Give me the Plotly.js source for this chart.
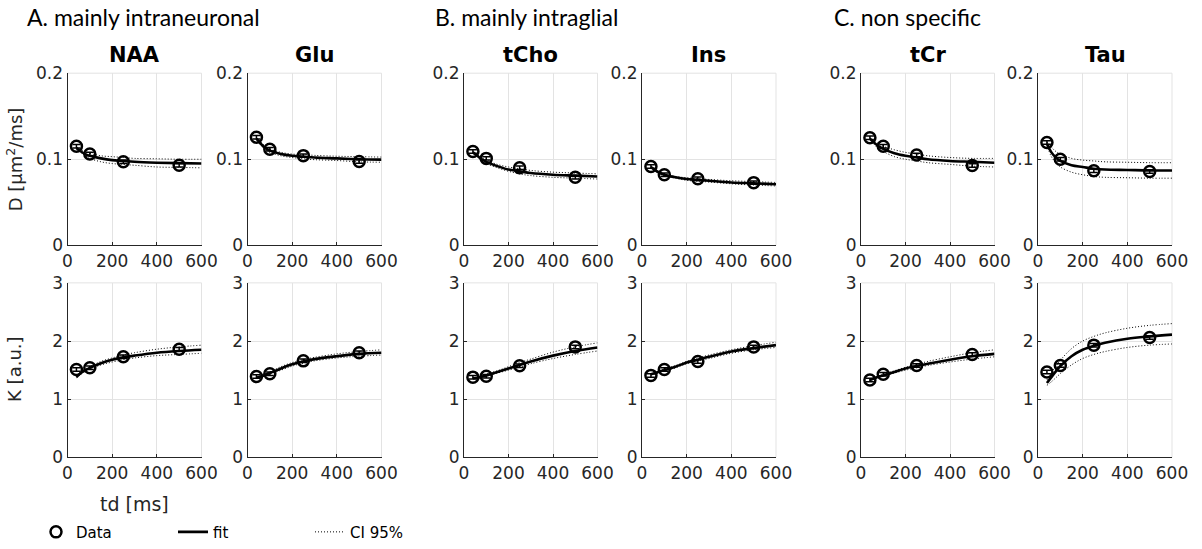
<!DOCTYPE html>
<html><head><meta charset="utf-8">
<script src="https://cdn.plot.ly/plotly-3.0.1.min.js"></script>
<style>html,body{margin:0;padding:0;background:#fff}#chart{width:1202px;height:549px}</style>
</head><body><div id="chart"></div>
<script>
// ---------- data ----------
const td = [40, 100, 250, 500];
const tFit = [40, 60, 80, 100, 150, 200, 250, 300, 400, 500, 600];
const metabolites = ['NAA', 'Glu', 'tCho', 'Ins', 'tCr', 'Tau'];
const groupTitles = ['A. mainly intraneuronal', 'B. mainly intraglial', 'C. non specific'];
const xTicks = [0, 200, 400, 600];
const dTicks = [0, 0.1, 0.2];
const kTicks = [0, 1, 2, 3];

// D [µm²/ms]
const D_NAA = [0.115, 0.106, 0.097, 0.093];
const D_NAA_fit = [0.113, 0.109, 0.106, 0.104, 0.101, 0.099, 0.098, 0.097, 0.096, 0.0955, 0.095];
const D_NAA_hi = [0.114, 0.111, 0.109, 0.107, 0.104, 0.103, 0.102, 0.101, 0.1005, 0.100, 0.100];
const D_NAA_lo = [0.112, 0.108, 0.104, 0.101, 0.097, 0.095, 0.094, 0.093, 0.091, 0.0905, 0.090];

const D_Glu = [0.1256, 0.1115, 0.1042, 0.0973];
const D_Glu_fit = [0.124, 0.118, 0.113, 0.110, 0.106, 0.104, 0.103, 0.102, 0.101, 0.100, 0.0995];
const D_Glu_hi = [0.125, 0.120, 0.115, 0.112, 0.108, 0.106, 0.1055, 0.1045, 0.1035, 0.103, 0.1025];
const D_Glu_lo = [0.123, 0.116, 0.111, 0.108, 0.104, 0.102, 0.1005, 0.0995, 0.0985, 0.097, 0.0965];

const D_tCho = [0.109, 0.101, 0.090, 0.079];
const D_tCho_fit = [0.108, 0.104, 0.100, 0.097, 0.092, 0.088, 0.086, 0.084, 0.082, 0.081, 0.080];
const D_tCho_hi = [0.109, 0.105, 0.102, 0.099, 0.094, 0.091, 0.089, 0.087, 0.085, 0.084, 0.083];
const D_tCho_lo = [0.107, 0.103, 0.098, 0.095, 0.090, 0.086, 0.083, 0.081, 0.079, 0.078, 0.077];

const D_Ins = [0.0916, 0.082, 0.0774, 0.0728];
const D_Ins_fit = [0.091, 0.087, 0.084, 0.082, 0.079, 0.077, 0.076, 0.075, 0.073, 0.072, 0.071];
const D_Ins_hi = [0.092, 0.088, 0.085, 0.083, 0.080, 0.0785, 0.0775, 0.0765, 0.075, 0.074, 0.073];
const D_Ins_lo = [0.090, 0.086, 0.083, 0.081, 0.078, 0.0755, 0.0745, 0.0735, 0.0715, 0.070, 0.069];

const D_tCr = [0.125, 0.115, 0.105, 0.0927];
const D_tCr_fit = [0.124, 0.119, 0.115, 0.112, 0.107, 0.104, 0.102, 0.100, 0.098, 0.097, 0.096];
const D_tCr_hi = [0.125, 0.121, 0.118, 0.115, 0.111, 0.108, 0.106, 0.104, 0.102, 0.101, 0.101];
const D_tCr_lo = [0.123, 0.117, 0.112, 0.109, 0.103, 0.100, 0.098, 0.096, 0.094, 0.092, 0.091];

const D_Tau = [0.1195, 0.100, 0.0866, 0.0858];
const D_Tau_fit = [0.118, 0.108, 0.102, 0.098, 0.093, 0.091, 0.089, 0.088, 0.0875, 0.087, 0.087];
const D_Tau_hi = [0.120, 0.114, 0.109, 0.106, 0.101, 0.099, 0.098, 0.097, 0.0965, 0.096, 0.096];
const D_Tau_lo = [0.116, 0.103, 0.096, 0.091, 0.085, 0.082, 0.080, 0.079, 0.0785, 0.078, 0.078];

const D_err = [0.002, 0.002, 0.002, 0.002];

// K [a.u.]
const K_NAA = [1.51, 1.54, 1.73, 1.86];
const K_NAA_fit = [1.38, 1.45, 1.50, 1.54, 1.62, 1.68, 1.72, 1.75, 1.80, 1.83, 1.85];
const K_NAA_hi = [1.40, 1.47, 1.52, 1.56, 1.65, 1.71, 1.76, 1.80, 1.86, 1.90, 1.93];
const K_NAA_lo = [1.37, 1.43, 1.48, 1.52, 1.59, 1.64, 1.68, 1.71, 1.75, 1.77, 1.79];

const K_Glu = [1.39, 1.44, 1.66, 1.80];
const K_Glu_fit = [1.37, 1.39, 1.42, 1.45, 1.53, 1.60, 1.65, 1.69, 1.74, 1.78, 1.80];
const K_Glu_hi = [1.38, 1.41, 1.44, 1.47, 1.56, 1.63, 1.68, 1.72, 1.78, 1.82, 1.85];
const K_Glu_lo = [1.36, 1.38, 1.40, 1.43, 1.50, 1.57, 1.62, 1.66, 1.71, 1.74, 1.76];

const K_tCho = [1.38, 1.395, 1.576, 1.90];
const K_tCho_fit = [1.36, 1.37, 1.39, 1.41, 1.47, 1.53, 1.59, 1.65, 1.75, 1.83, 1.89];
const K_tCho_hi = [1.37, 1.38, 1.40, 1.43, 1.49, 1.56, 1.63, 1.69, 1.81, 1.90, 1.97];
const K_tCho_lo = [1.35, 1.36, 1.38, 1.39, 1.45, 1.50, 1.55, 1.61, 1.70, 1.77, 1.83];

const K_Ins = [1.41, 1.51, 1.65, 1.90];
const K_Ins_fit = [1.43, 1.45, 1.48, 1.50, 1.56, 1.63, 1.68, 1.73, 1.82, 1.88, 1.93];
const K_Ins_hi = [1.44, 1.46, 1.49, 1.52, 1.58, 1.65, 1.71, 1.76, 1.85, 1.92, 1.98];
const K_Ins_lo = [1.42, 1.44, 1.47, 1.49, 1.54, 1.61, 1.66, 1.70, 1.79, 1.85, 1.89];

const K_tCr = [1.33, 1.43, 1.58, 1.77];
const K_tCr_fit = [1.33, 1.36, 1.39, 1.41, 1.47, 1.53, 1.57, 1.61, 1.68, 1.74, 1.78];
const K_tCr_hi = [1.34, 1.37, 1.40, 1.43, 1.49, 1.55, 1.60, 1.65, 1.73, 1.80, 1.85];
const K_tCr_lo = [1.32, 1.35, 1.38, 1.40, 1.45, 1.50, 1.54, 1.58, 1.64, 1.69, 1.73];

const K_Tau = [1.47, 1.58, 1.93, 2.06];
const K_Tau_fit = [1.28, 1.38, 1.48, 1.57, 1.74, 1.85, 1.92, 1.97, 2.04, 2.08, 2.11];
const K_Tau_hi = [1.33, 1.46, 1.57, 1.67, 1.87, 2.00, 2.08, 2.14, 2.22, 2.27, 2.30];
const K_Tau_lo = [1.24, 1.30, 1.37, 1.44, 1.59, 1.70, 1.77, 1.82, 1.89, 1.93, 1.95];

const K_err = [0.03, 0.03, 0.03, 0.03];

// ---------- assembly ----------
const Drows = [
  [D_NAA, D_NAA_fit, D_NAA_hi, D_NAA_lo],
  [D_Glu, D_Glu_fit, D_Glu_hi, D_Glu_lo],
  [D_tCho, D_tCho_fit, D_tCho_hi, D_tCho_lo],
  [D_Ins, D_Ins_fit, D_Ins_hi, D_Ins_lo],
  [D_tCr, D_tCr_fit, D_tCr_hi, D_tCr_lo],
  [D_Tau, D_Tau_fit, D_Tau_hi, D_Tau_lo]
];
const Krows = [
  [K_NAA, K_NAA_fit, K_NAA_hi, K_NAA_lo],
  [K_Glu, K_Glu_fit, K_Glu_hi, K_Glu_lo],
  [K_tCho, K_tCho_fit, K_tCho_hi, K_tCho_lo],
  [K_Ins, K_Ins_fit, K_Ins_hi, K_Ins_lo],
  [K_tCr, K_tCr_fit, K_tCr_hi, K_tCr_lo],
  [K_Tau, K_Tau_fit, K_Tau_hi, K_Tau_lo]
];

const W = 1202, H = 549;
const colPx = [[67.5, 201.5], [247.5, 381.5], [464, 597.5], [642, 776], [861, 994.5], [1038, 1172]];
const rowPx = [[74, 248], [286, 462.5]];
const groupX = [25, 433, 832];

const TXT = '#262626';
const GRID = '#e3e3e3';
const FONT = 'DejaVu Sans';
const DOT = '1px,2px';
const traces = [];
const layout = {
  width: W, height: H,
  margin: {l: 0, r: 0, t: 0, b: 0},
  paper_bgcolor: '#fff', plot_bgcolor: '#fff',
  showlegend: true,
  legend: {
    orientation: 'h', x: 36 / W, xanchor: 'left', y: 1 - 538 / H, yanchor: 'middle',
    font: {family: FONT, size: 15, color: '#000'},
    entrywidth: 92, entrywidthmode: 'pixels', bgcolor: 'rgba(0,0,0,0)', itemwidth: 30
  },
  annotations: [], shapes: []
};

function axisBase(range, tickvals, domain) {
  return {
    domain: domain, range: range, tickvals: tickvals, ticktext: tickvals.map(String),
    showgrid: true, gridcolor: GRID, gridwidth: 1, zeroline: false,
    showline: true, linecolor: TXT, linewidth: 1, mirror: false,
    ticks: 'inside', ticklen: 3, tickcolor: TXT, tickwidth: 1,
    tickfont: {family: FONT, size: 17, color: TXT}, fixedrange: true
  };
}

[Drows, Krows].forEach((rows, r) => {
  rows.forEach((set, c) => {
    const n = r * 6 + c + 1;
    const xa = 'x' + (n === 1 ? '' : n), ya = 'y' + (n === 1 ? '' : n);
    const xk = 'xaxis' + (n === 1 ? '' : n), yk = 'yaxis' + (n === 1 ? '' : n);
    const xd = [colPx[c][0] / W, colPx[c][1] / W];
    const yd = [1 - rowPx[r][1] / H, 1 - rowPx[r][0] / H];
    layout[xk] = Object.assign(axisBase([0, 600], xTicks, xd), {anchor: ya});
    layout[yk] = Object.assign(axisBase(r === 0 ? [0, 0.2] : [0, 3], r === 0 ? dTicks : kTicks, yd), {anchor: xa});
    // light box edges (top and right), as in the original figure
    layout.shapes.push({type: 'line', layer: 'below', xref: xa + ' domain', yref: ya + ' domain',
      x0: 0, x1: 1, y0: 1, y1: 1, line: {color: GRID, width: 1}});
    layout.shapes.push({type: 'line', layer: 'below', xref: xa + ' domain', yref: ya + ' domain',
      x0: 1, x1: 1, y0: 0, y1: 1, line: {color: GRID, width: 1}});
    const first = (n === 1);
    const [pts, fit, hi, lo] = set;
    traces.push({x: tFit, y: hi, xaxis: xa, yaxis: ya, mode: 'lines', name: 'CI 95%',
      line: {color: '#000', width: 1, dash: DOT, shape: 'spline'}, showlegend: false, hoverinfo: 'skip'});
    traces.push({x: tFit, y: lo, xaxis: xa, yaxis: ya, mode: 'lines', name: 'CI 95%',
      line: {color: '#000', width: 1, dash: DOT, shape: 'spline'}, showlegend: false, hoverinfo: 'skip'});
    traces.push({x: tFit, y: fit, xaxis: xa, yaxis: ya, mode: 'lines', name: 'fit',
      line: {color: '#000', width: 2.6, shape: 'spline'}, showlegend: false});
    traces.push({x: td, y: pts, xaxis: xa, yaxis: ya, mode: 'markers', name: 'Data',
      marker: {symbol: 'circle-open', size: 11, color: '#000', line: {width: 2.5, color: '#000'}},
      error_y: {type: 'data', array: r === 0 ? D_err : K_err, visible: true, color: '#000', thickness: 1.5, width: 4},
      showlegend: first, legendrank: 1});
    if (first) {
      traces.push({x: [null], y: [null], xaxis: xa, yaxis: ya, mode: 'lines', name: 'fit',
        line: {color: '#000', width: 2.6}, showlegend: true, legendrank: 2});
      traces.push({x: [null], y: [null], xaxis: xa, yaxis: ya, mode: 'lines', name: 'CI 95%',
        line: {color: '#000', width: 1, dash: DOT}, showlegend: true, legendrank: 3});
    }
    if (r === 0) {
      layout.annotations.push({xref: 'paper', yref: 'paper', x: (xd[0] + xd[1]) / 2, y: 1 - 56 / H,
        xanchor: 'center', yanchor: 'middle', showarrow: false,
        text: '<b>' + metabolites[c] + '</b>', font: {family: FONT, size: 21, color: '#000'}});
    }
  });
});

groupTitles.forEach((t, g) => {
  layout.annotations.push({xref: 'paper', yref: 'paper', x: groupX[g] / W, y: 1 - 17 / H,
    xanchor: 'left', yanchor: 'middle', showarrow: false, text: t,
    font: {family: 'Lato', size: 23, color: '#000'}});
});

layout.annotations.push({xref: 'paper', yref: 'paper', x: 15 / W, y: 1 - 161 / H, textangle: -90,
  xanchor: 'center', yanchor: 'middle', showarrow: false, text: 'D [μm<sup>2</sup>/ms]',
  font: {family: FONT, size: 18, color: TXT}});
layout.annotations.push({xref: 'paper', yref: 'paper', x: 15 / W, y: 1 - 374 / H, textangle: -90,
  xanchor: 'center', yanchor: 'middle', showarrow: false, text: 'K [a.u.]',
  font: {family: FONT, size: 18, color: TXT}});
layout.annotations.push({xref: 'paper', yref: 'paper', x: 134.5 / W, y: 1 - 510 / H,
  xanchor: 'center', yanchor: 'middle', showarrow: false, text: 'td [ms]',
  font: {family: FONT, size: 19, color: TXT}});

Plotly.newPlot('chart', traces, layout, {staticPlot: true, displayModeBar: false});
</script></body></html>
